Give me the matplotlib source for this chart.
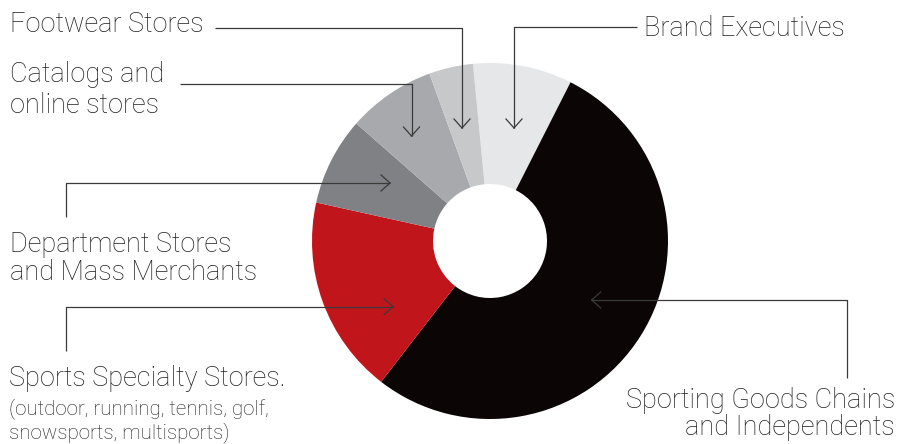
import matplotlib.pyplot as plt
import numpy as np

# share of sales by channel (percent), clockwise from the top
canais = ['Brand Executives', 'Sporting Goods Chains and Independents',
          'Sports Specialty Stores', 'Department Stores and Mass Merchants',
          'Catalogs and online stores', 'Footwear Stores']
valores = [9, 53, 18, 8, 8, 4]
cores = ['#e6e7e8', '#0b0506', '#c1151c', '#808184', '#a8a9ac', '#c7c8ca']

W, H = 899, 444
fig = plt.figure(figsize=(W / 100, H / 100), dpi=100)
ax = fig.add_axes([0, 0, 1, 1])

cx, cy, R = 490, 241, 178  # pixel layout of the ring
ax.pie(valores, colors=cores, startangle=95.5, counterclock=False,
       center=(cx, H - cy), radius=R,
       wedgeprops=dict(width=R - 57, linewidth=0))
ax.set_xlim(0, W)
ax.set_ylim(0, H)
ax.set_aspect('auto')
ax.axis('off')

cor_linha = '#3a3a3a'
fonte = 'Roboto'
cor_txt = '#1e1e1e'


def leader(pts):
    # polyline in pixel coords (y down), open chevron at the last point
    xs = [p[0] for p in pts]
    ys = [H - p[1] for p in pts]
    ax.plot(xs, ys, color=cor_linha, lw=0.9, solid_capstyle='butt')
    d = np.array([xs[-1] - xs[-2], ys[-1] - ys[-2]], dtype=float)
    d /= np.hypot(*d)
    n = np.array([-d[1], d[0]])
    tip = np.array([xs[-1], ys[-1]])
    for s in (1, -1):
        w = tip - d * 9 + n * 8 * s
        ax.plot([w[0], tip[0]], [w[1], tip[1]], color=cor_linha, lw=0.9)


leader([(215, 28), (462, 28), (462, 128)])
leader([(180, 84), (411.5, 84), (411.5, 136)])
leader([(637, 27), (514, 27), (514, 128)])
leader([(65.7, 217), (65.7, 183), (390, 183)])
leader([(65.7, 351), (65.7, 306.7), (393, 306.7)])
leader([(846.7, 378), (846.7, 300), (591.7, 300)])


def rotulo(x, y, s, size=19.5, ha='left'):
    ax.text(x, H - y, s, fontsize=size, family=fonte, weight='light',
            color=cor_txt, ha=ha, va='baseline')


rotulo(10, 32.5, 'Footwear Stores')
rotulo(10, 82.5, 'Catalogs and')
rotulo(10, 112.7, 'online stores')
rotulo(644, 36.5, 'Brand Executives')
rotulo(10, 251.5, 'Department Stores')
rotulo(10, 280, 'and Mass Merchants')
rotulo(9, 386, 'Sports Specialty Stores.')
rotulo(9, 414, '(outdoor, running, tennis, golf,', size=14.8)
rotulo(9, 438, 'snowsports, multisports)', size=14.8)
rotulo(895, 408.3, 'Sporting Goods Chains', ha='right')
rotulo(895, 435, 'and Independents', ha='right')

fig.savefig('out.png', dpi=100)
